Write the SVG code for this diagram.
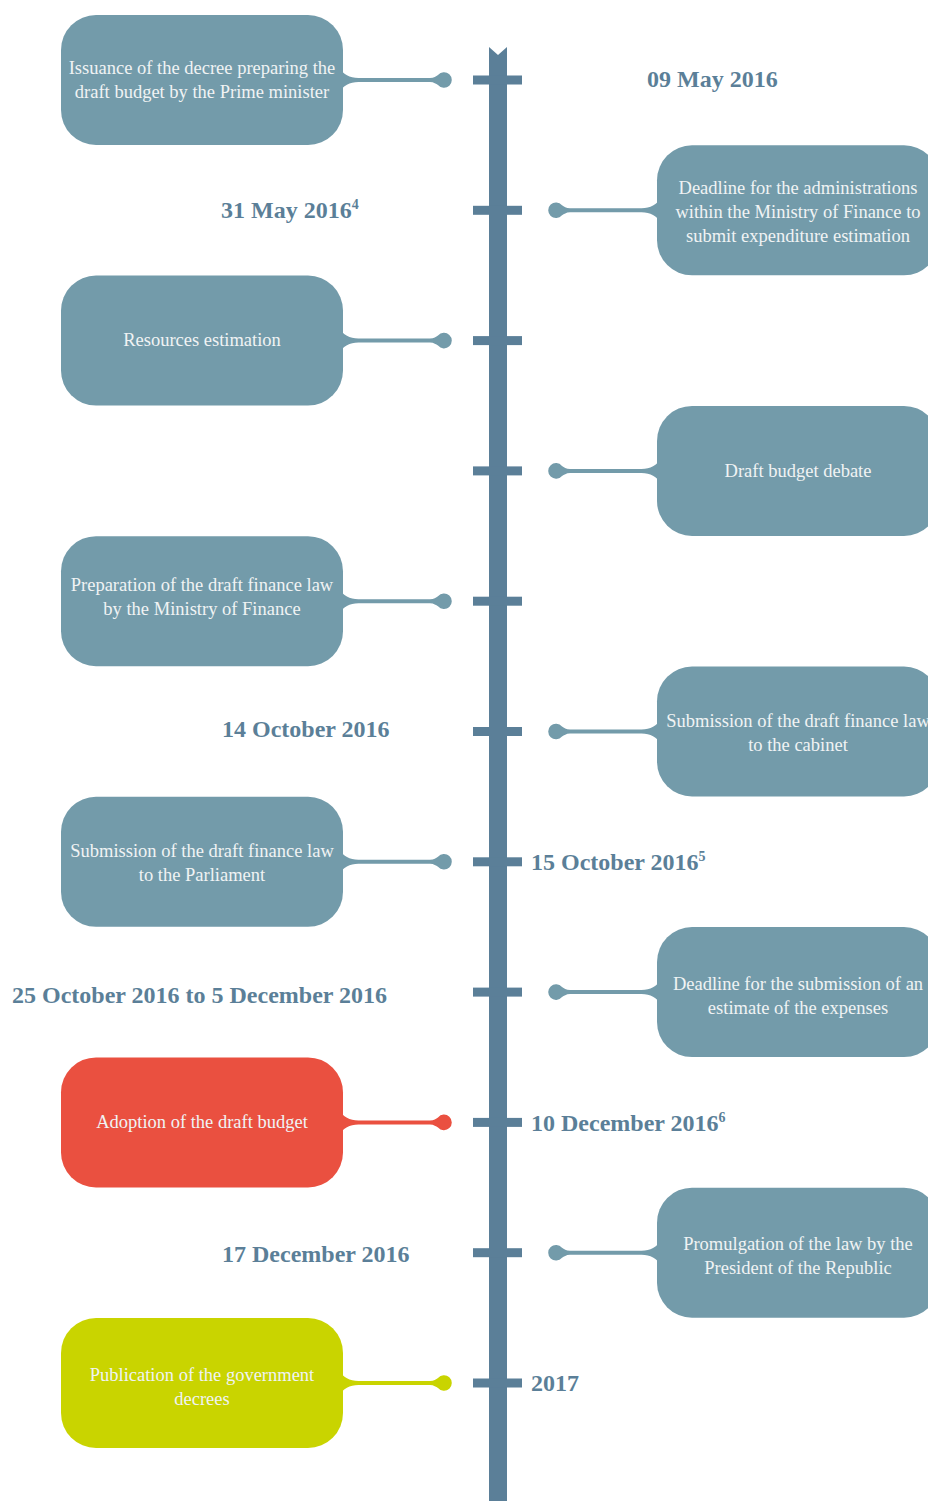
<svg xmlns="http://www.w3.org/2000/svg" xmlns:xlink="http://www.w3.org/1999/xlink" width="928" height="1501" viewBox="0 0 928 1501">
<style>
.box{fill:#739BAA}
.red{fill:#EA5040}
.lime{fill:#C9D400}
.bt{font-family:"Liberation Serif","Times New Roman",serif;font-size:18.5px;fill:#F0F3F4;text-anchor:middle}
.dt{font-family:"Liberation Serif","Times New Roman",serif;font-size:24px;font-weight:bold;fill:#5B7F98}
.sup{font-size:14px}
.axis{fill:#5B7F98}
</style>
<defs>
<path id="conn" d="M 340 -11 C 346 -3 352 -2 362 -2 L 430 -2 C 434 -2 436 -4 438 -5 A 7.8 7.8 0 1 1 438 5 C 436 4 434 2 430 2 L 362 2 C 352 2 346 3 340 11 Z"/>
</defs>
<g id="axis">
<path class="axis" d="M489 47 L498 55 L507 47 L507 1501 L489 1501 Z"/>
<rect class="axis" x="473" y="75.5" width="49" height="9"/>
<rect class="axis" x="473" y="205.8" width="49" height="9"/>
<rect class="axis" x="473" y="336.1" width="49" height="9"/>
<rect class="axis" x="473" y="466.4" width="49" height="9"/>
<rect class="axis" x="473" y="596.7" width="49" height="9"/>
<rect class="axis" x="473" y="727" width="49" height="9"/>
<rect class="axis" x="473" y="857.3" width="49" height="9"/>
<rect class="axis" x="473" y="987.6" width="49" height="9"/>
<rect class="axis" x="473" y="1117.9" width="49" height="9"/>
<rect class="axis" x="473" y="1248.2" width="49" height="9"/>
<rect class="axis" x="473" y="1378.5" width="49" height="9"/>
</g>
<g id="connectors">
<use href="#conn" class="box" transform="translate(0,80)"/>
<use href="#conn" class="box" transform="translate(1000,210.3) scale(-1,1)"/>
<use href="#conn" class="box" transform="translate(0,340.6)"/>
<use href="#conn" class="box" transform="translate(1000,470.9) scale(-1,1)"/>
<use href="#conn" class="box" transform="translate(0,601.2)"/>
<use href="#conn" class="box" transform="translate(1000,731.5) scale(-1,1)"/>
<use href="#conn" class="box" transform="translate(0,861.8)"/>
<use href="#conn" class="box" transform="translate(1000,992.1) scale(-1,1)"/>
<use href="#conn" class="red" transform="translate(0,1122.4)"/>
<use href="#conn" class="box" transform="translate(1000,1252.7) scale(-1,1)"/>
<use href="#conn" class="lime" transform="translate(0,1383)"/>
</g>
<g id="n1"><rect class="box" x="61" y="15" width="282" height="130" rx="35"/>
<text class="bt" x="202" y="74">Issuance of the decree preparing the</text>
<text class="bt" x="202" y="98">draft budget by the Prime minister</text></g>
<g id="d1"><text class="dt" x="647" y="87">09 May 2016</text></g>
<g id="n2"><rect class="box" x="657" y="145.3" width="282" height="130" rx="35"/>
<text class="bt" x="798" y="194">Deadline for the administrations</text>
<text class="bt" x="798" y="218">within the Ministry of Finance to</text>
<text class="bt" x="798" y="242">submit expenditure estimation</text></g>
<g id="d2"><text class="dt" x="221" y="218">31 May 2016<tspan class="sup" dy="-9">4</tspan></text></g>
<g id="n3"><rect class="box" x="61" y="275.6" width="282" height="130" rx="35"/>
<text class="bt" x="202" y="346">Resources estimation</text></g>
<g id="n4"><rect class="box" x="657" y="405.9" width="282" height="130" rx="35"/>
<text class="bt" x="798" y="477">Draft budget debate</text></g>
<g id="n5"><rect class="box" x="61" y="536.2" width="282" height="130" rx="35"/>
<text class="bt" x="202" y="591">Preparation of the draft finance law</text>
<text class="bt" x="202" y="615">by the Ministry of Finance</text></g>
<g id="n6"><rect class="box" x="657" y="666.5" width="282" height="130" rx="35"/>
<text class="bt" x="798" y="727">Submission of the draft finance law</text>
<text class="bt" x="798" y="751">to the cabinet</text></g>
<g id="d6"><text class="dt" x="222" y="737">14 October 2016</text></g>
<g id="n7"><rect class="box" x="61" y="796.8" width="282" height="130" rx="35"/>
<text class="bt" x="202" y="857">Submission of the draft finance law</text>
<text class="bt" x="202" y="881">to the Parliament</text></g>
<g id="d7"><text class="dt" x="531" y="870">15 October 2016<tspan class="sup" dy="-9">5</tspan></text></g>
<g id="n8"><rect class="box" x="657" y="927.1" width="282" height="130" rx="35"/>
<text class="bt" x="798" y="990">Deadline for the submission of an</text>
<text class="bt" x="798" y="1014">estimate of the expenses</text></g>
<g id="d8"><text class="dt" x="12" y="1003">25 October 2016 to 5 December 2016</text></g>
<g id="n9"><rect class="red" x="61" y="1057.4" width="282" height="130" rx="35"/>
<text class="bt" x="202" y="1128">Adoption of the draft budget</text></g>
<g id="d9"><text class="dt" x="531" y="1131">10 December 2016<tspan class="sup" dy="-9">6</tspan></text></g>
<g id="n10"><rect class="box" x="657" y="1187.7" width="282" height="130" rx="35"/>
<text class="bt" x="798" y="1250">Promulgation of the law by the</text>
<text class="bt" x="798" y="1274">President of the Republic</text></g>
<g id="d10"><text class="dt" x="222" y="1262">17 December 2016</text></g>
<g id="n11"><rect class="lime" x="61" y="1318" width="282" height="130" rx="35"/>
<text class="bt" x="202" y="1381">Publication of the government</text>
<text class="bt" x="202" y="1405">decrees</text></g>
<g id="d11"><text class="dt" x="531" y="1391">2017</text></g>
</svg>
